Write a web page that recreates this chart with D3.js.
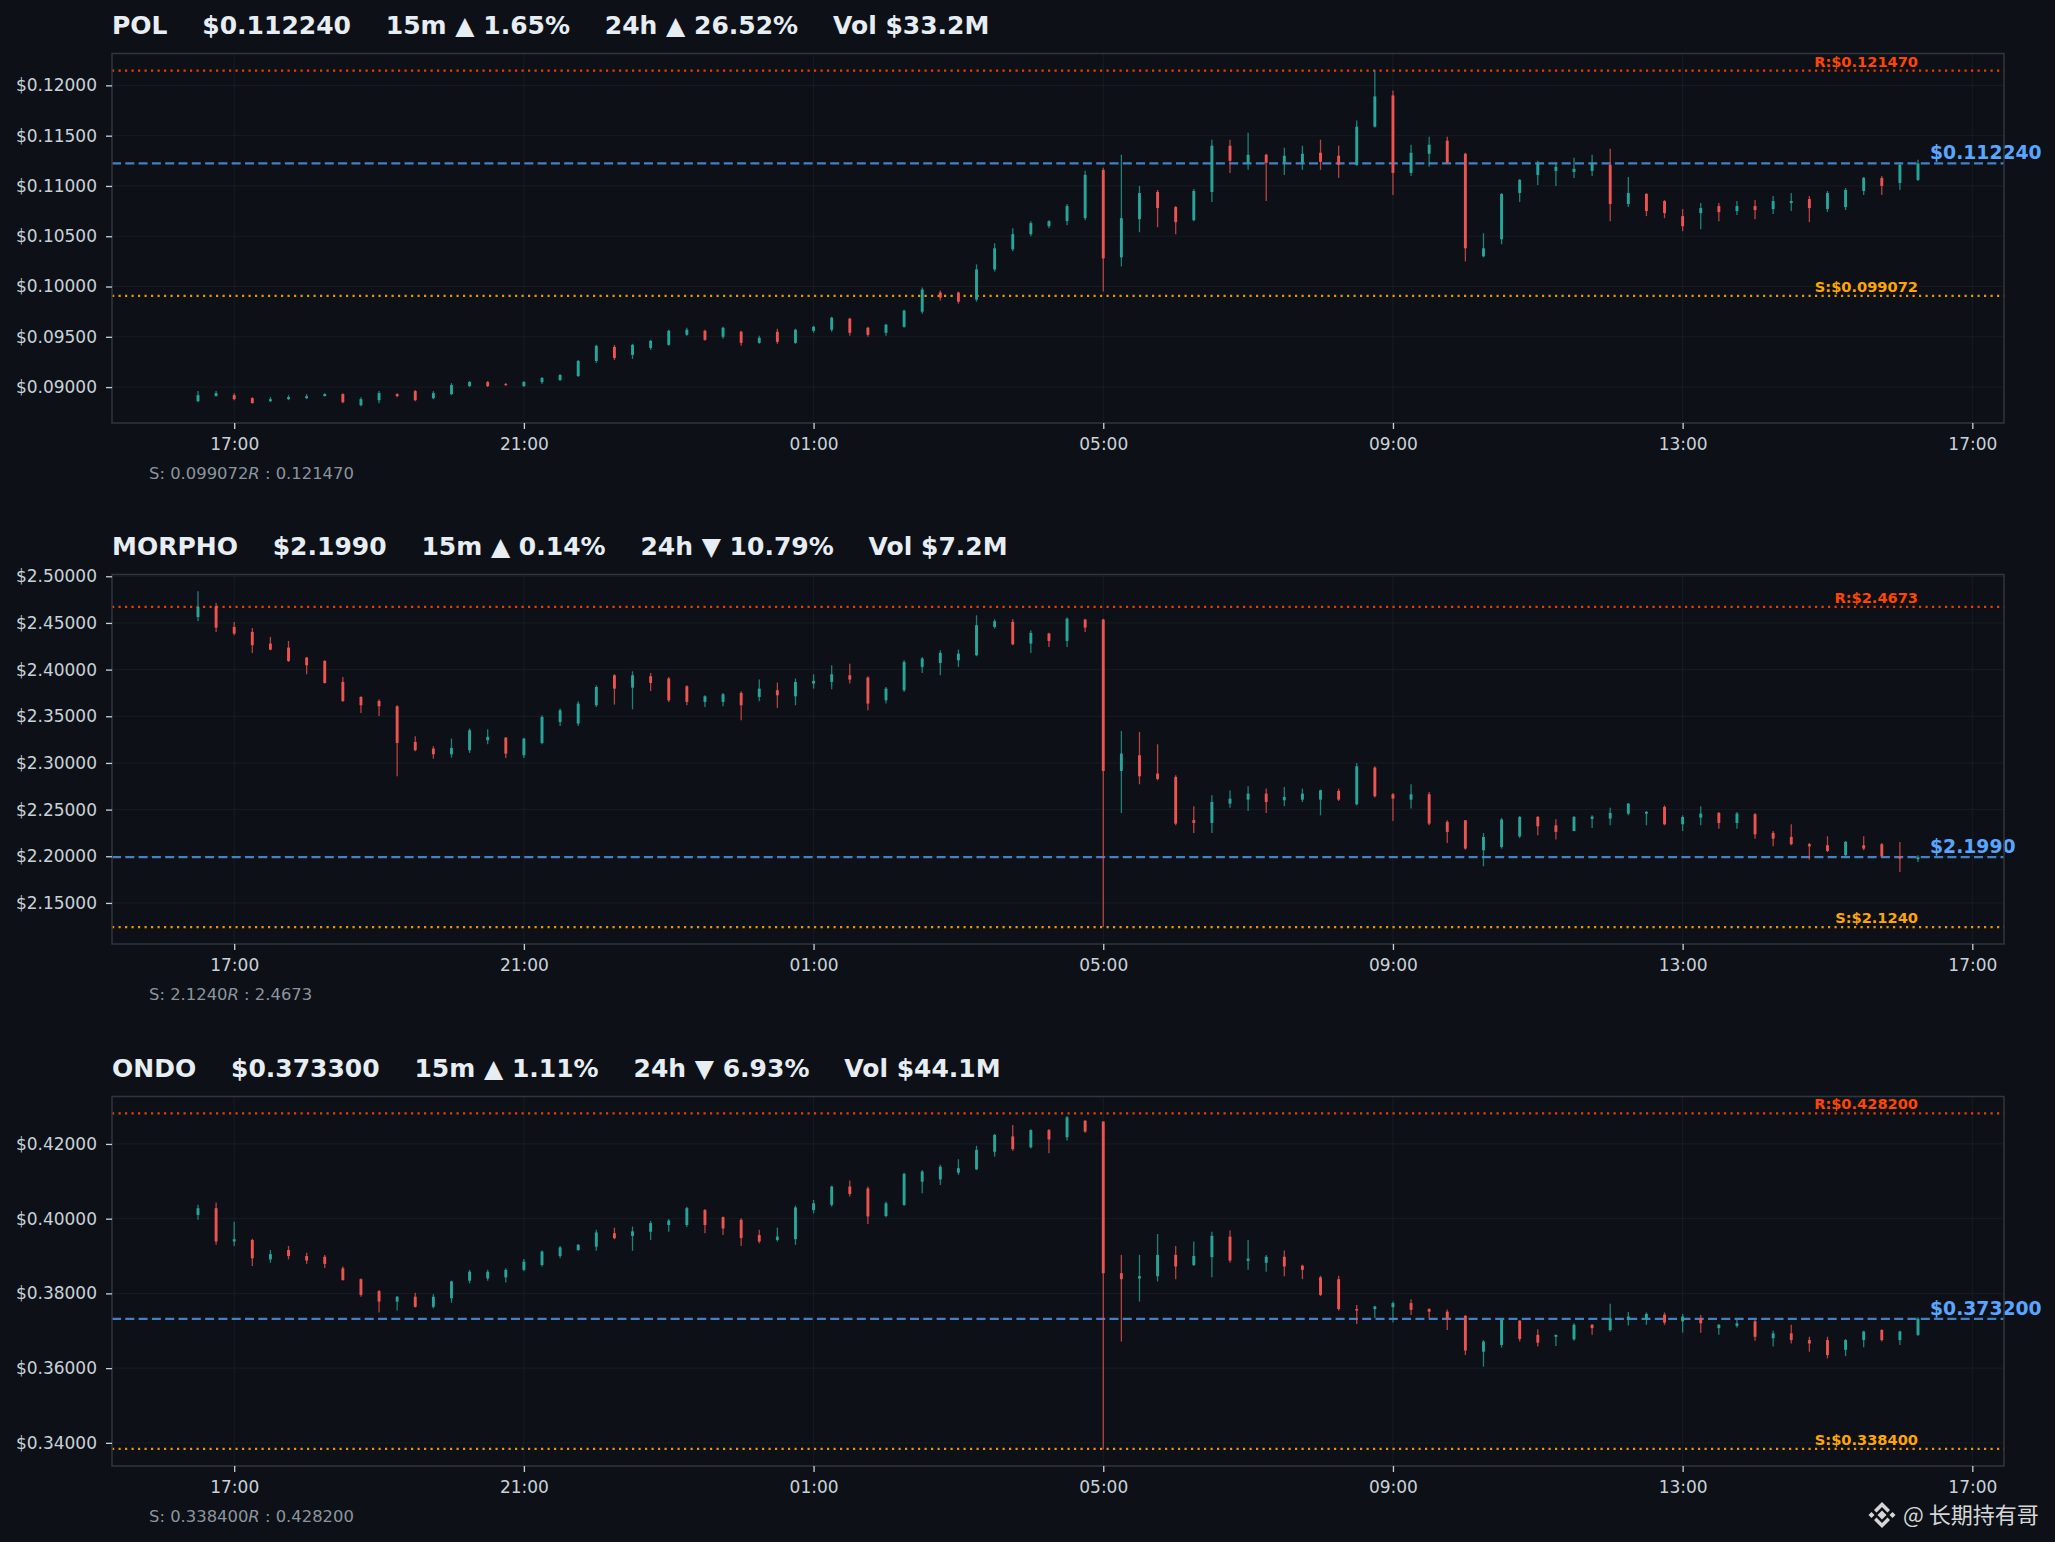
<!DOCTYPE html>
<html>
<head>
<meta charset="utf-8">
<script src="https://cdn.jsdelivr.net/npm/d3@7"></script>
<style>
  html, body { margin: 0; padding: 0; background: #0d1117; }
  svg { display: block; }
</style>
</head>
<body>
<div id="chart"></div>
<script>
// ---- data (15m candles, 16:30 -> 16:15 next day) ----
const candleStart = new Date("2025-01-01T16:30:00Z");

const symbols = ["POL", "MORPHO", "ONDO"];
const headerPrices = ["$0.112240", "$2.1990", "$0.373300"];
const change15m = ["▲ 1.65%", "▲ 0.14%", "▲ 1.11%"];
const change24h = ["▲ 26.52%", "▼ 10.79%", "▼ 6.93%"];
const volumes = ["$33.2M", "$7.2M", "$44.1M"];
const supports = [0.099072, 2.1240, 0.338400];
const resistances = [0.121470, 2.4673, 0.428200];
const priceDecimals = [6, 4, 6];
const yTickValues = [
  [0.090, 0.095, 0.100, 0.105, 0.110, 0.115, 0.120],
  [2.15, 2.20, 2.25, 2.30, 2.35, 2.40, 2.45, 2.50],
  [0.34, 0.36, 0.38, 0.40, 0.42]
];

const polOpen = [
  .0886,.0891,.0892,.0889,.0886,.0888,.0889,.0891,.0893,.0882,
  .0887,.0893,.0896,.0889,.0893,.0901,.0905,.0903,.0901,.0905,
  .0907,.0911,.0926,.0940,.0932,.0939,.0942,.0952,.0956,.0950,
  .0955,.0944,.0955,.0944,.0956,.0957,.0968,.0959,.0954,.0960,
  .0975,.0994,.0994,.0987,.1017,.1037,.1052,.1060,.1065,.1068,
  .1116,.1029,.1067,.1094,.1079,.1066,.1094,.1140,.1123,.1131,
  .1123,.1123,.1133,.1130,.1121,.1159,.1190,.1113,.1132,.1145,
  .1132,.1030,.1047,.1093,.1111,.1115,.1114,.1115,.1121,.1082,
  .1092,.1085,.1070,.1073,.1080,.1075,.1080,.1077,.1083,.1087,
  .1077,.1079,.1095,.1108,.1103,.1106];
const polHigh = [
  .0896,.0896,.0894,.0890,.0890,.0892,.0893,.0894,.0894,.0890,
  .0896,.0894,.0897,.0896,.0904,.0906,.0906,.0904,.0906,.0910,
  .0913,.0927,.0942,.0942,.0943,.0947,.0957,.0959,.0957,.0960,
  .0956,.0951,.0958,.0958,.0961,.0970,.0969,.0960,.0963,.0977,
  .0999,.0996,.0995,.1022,.1043,.1058,.1065,.1066,.1082,.1115,
  .1118,.1131,.1100,.1096,.1080,.1097,.1146,.1146,.1153,.1132,
  .1138,.1140,.1146,.1140,.1165,.1215,.1195,.1141,.1149,.1149,
  .1133,.1053,.1093,.1107,.1125,.1123,.1128,.1131,.1137,.1109,
  .1093,.1086,.1077,.1083,.1083,.1085,.1086,.1090,.1093,.1090,
  .1095,.1098,.1109,.1110,.1123,.1126];
const polLow = [
  .0885,.0891,.0887,.0884,.0885,.0887,.0888,.0891,.0884,.0881,
  .0884,.0890,.0886,.0888,.0892,.0900,.0900,.0901,.0900,.0903,
  .0906,.0910,.0924,.0927,.0928,.0937,.0941,.0951,.0946,.0948,
  .0941,.0943,.0943,.0943,.0954,.0955,.0951,.0950,.0951,.0959,
  .0973,.0986,.0983,.0985,.1015,.1035,.1050,.1058,.1061,.1066,
  .0995,.1020,.1054,.1059,.1052,.1065,.1084,.1113,.1116,.1085,
  .1111,.1116,.1116,.1108,.1120,.1158,.1091,.1110,.1119,.1122,
  .1025,.1029,.1042,.1084,.1101,.1100,.1108,.1110,.1065,.1079,
  .1070,.1068,.1055,.1057,.1065,.1071,.1067,.1072,.1075,.1064,
  .1074,.1076,.1091,.1091,.1096,.1105];
const polClose = [
  .0892,.0894,.0888,.0884,.0888,.0890,.0891,.0893,.0885,.0888,
  .0894,.0891,.0887,.0894,.0902,.0905,.0901,.0902,.0905,.0909,
  .0912,.0926,.0941,.0929,.0942,.0946,.0956,.0957,.0947,.0959,
  .0944,.0949,.0945,.0957,.0960,.0969,.0954,.0952,.0962,.0976,
  .0997,.0989,.0985,.1017,.1038,.1052,.1063,.1065,.1080,.1111,
  .1028,.1068,.1093,.1078,.1064,.1095,.1140,.1125,.1131,.1123,
  .1130,.1132,.1124,.1121,.1159,.1189,.1113,.1133,.1141,.1123,
  .1038,.1038,.1092,.1106,.1123,.1119,.1117,.1123,.1082,.1093,
  .1075,.1073,.1060,.1078,.1074,.1080,.1076,.1085,.1085,.1078,
  .1093,.1096,.1108,.1100,.1121,.11224];

const morphoOpen = [
  2.4564,2.4679,2.4457,2.4404,2.4279,2.4236,2.4129,2.4093,2.3868,2.3707,
  2.3664,2.3607,2.3225,2.3154,2.3093,2.3136,2.3243,2.3271,2.3082,2.3214,
  2.3439,2.3421,2.3618,2.3939,2.3807,2.3929,2.3904,2.3821,2.3654,2.3654,
  2.3750,2.3707,2.3779,2.3714,2.3850,2.3868,2.3939,2.3914,2.3671,2.3779,
  2.4029,2.4071,2.4100,2.4154,2.4457,2.4511,2.4279,2.4386,2.4307,2.4536,
  2.4536,2.2914,2.3082,2.2886,2.2850,2.2386,2.2357,2.2564,2.2607,2.2671,
  2.2600,2.2607,2.2607,2.2700,2.2557,2.2950,2.2664,2.2607,2.2664,2.2368,
  2.2386,2.2064,2.2100,2.2214,2.2421,2.2332,2.2271,2.2400,2.2404,2.2457,
  2.2457,2.2529,2.2343,2.2414,2.2464,2.2357,2.2450,2.2250,2.2207,2.2129,
  2.2118,2.2011,2.2118,2.2129,2.2000,2.1968];
const morphoHigh = [
  2.4839,2.4714,2.4510,2.4446,2.4350,2.4307,2.4136,2.4100,2.3921,2.3714,
  2.3682,2.3618,2.3286,2.3179,2.3261,2.3368,2.3360,2.3279,2.3271,2.3511,
  2.3582,2.3661,2.3832,2.3950,2.3982,2.3964,2.3921,2.3832,2.3725,2.3750,
  2.3768,2.3893,2.3861,2.3904,2.3950,2.4046,2.4064,2.3929,2.3814,2.4100,
  2.4136,2.4207,2.4214,2.4582,2.4539,2.4539,2.4421,2.4396,2.4557,2.4546,
  2.4546,2.3343,2.3332,2.3200,2.2868,2.2536,2.2654,2.2704,2.2750,2.2725,
  2.2743,2.2725,2.2714,2.2725,2.3000,2.2964,2.2679,2.2771,2.2689,2.2386,
  2.2386,2.2250,2.2411,2.2432,2.2432,2.2396,2.2432,2.2439,2.2521,2.2571,
  2.2486,2.2546,2.2439,2.2536,2.2475,2.2475,2.2464,2.2271,2.2343,2.2143,
  2.2214,2.2164,2.2214,2.2143,2.2154,2.2011];
const morphoLow = [
  2.4521,2.4404,2.4368,2.4179,2.4207,2.4082,2.3950,2.3850,2.3654,2.3536,
  2.3504,2.2857,2.3125,2.3046,2.3057,2.3107,2.3200,2.3054,2.3054,2.3200,
  2.3396,2.3396,2.3600,2.3625,2.3575,2.3771,2.3654,2.3618,2.3600,2.3607,
  2.3457,2.3661,2.3589,2.3618,2.3796,2.3789,2.3850,2.3564,2.3636,2.3761,
  2.3964,2.3939,2.4029,2.4143,2.4439,2.4261,2.4179,2.4243,2.4243,2.4404,
  2.1243,2.2464,2.2771,2.2814,2.2332,2.2250,2.2250,2.2521,2.2486,2.2464,
  2.2536,2.2582,2.2439,2.2593,2.2546,2.2629,2.2379,2.2511,2.2332,2.2143,
  2.2071,2.1893,2.2082,2.2196,2.2225,2.2179,2.2271,2.2304,2.2332,2.2439,
  2.2332,2.2332,2.2271,2.2332,2.2296,2.2296,2.2189,2.2107,2.2118,2.1964,
  2.2046,2.2000,2.2064,2.1993,2.1832,2.1939];
const morphoClose = [
  2.4671,2.4450,2.4386,2.4261,2.4214,2.4093,2.4046,2.3857,2.3664,2.3618,
  2.3607,2.3214,2.3136,2.3093,2.3161,2.3350,2.3279,2.3100,2.3261,2.3493,
  2.3564,2.3636,2.3814,2.3796,2.3939,2.3857,2.3671,2.3654,2.3714,2.3736,
  2.3618,2.3796,2.3725,2.3868,2.3879,2.3950,2.3893,2.3636,2.3796,2.4082,
  2.4118,2.4179,2.4171,2.4475,2.4518,2.4271,2.4393,2.4307,2.4546,2.4450,
  2.2914,2.3100,2.2857,2.2829,2.2350,2.2357,2.2582,2.2618,2.2671,2.2582,
  2.2636,2.2671,2.2707,2.2607,2.2964,2.2643,2.2618,2.2664,2.2350,2.2261,
  2.2082,2.2207,2.2393,2.2421,2.2321,2.2261,2.2421,2.2425,2.2464,2.2564,
  2.2475,2.2343,2.2421,2.2457,2.2357,2.2457,2.2236,2.2189,2.2129,2.2107,
  2.2057,2.2154,2.2082,2.2000,2.1975,2.1990];

const ondoOpen = [
  .4010,.4028,.3939,.3943,.3891,.3916,.3900,.3898,.3867,.3838,
  .3806,.3778,.3791,.3764,.3787,.3834,.3840,.3843,.3863,.3876,
  .3900,.3916,.3925,.3961,.3954,.3965,.3983,.3983,.4023,.4004,
  .3997,.3956,.3943,.3945,.4023,.4037,.4086,.4081,.4007,.4037,
  .4099,.4105,.4123,.4132,.4179,.4220,.4191,.4237,.4218,.4262,
  .4260,.3854,.3840,.3846,.3903,.3876,.3897,.3952,.3887,.3882,
  .3898,.3874,.3843,.3838,.3758,.3758,.3763,.3774,.3758,.3751,
  .3740,.3644,.3662,.3727,.3689,.3684,.3677,.3716,.3702,.3729,
  .3729,.3743,.3725,.3734,.3707,.3713,.3725,.3680,.3693,.3675,
  .3675,.3649,.3675,.3702,.3675,.3689];
const ondoHigh = [
  .4037,.4043,.3992,.3946,.3916,.3927,.3909,.3903,.3872,.3840,
  .3809,.3793,.3802,.3798,.3834,.3863,.3863,.3867,.3892,.3915,
  .3927,.3932,.3970,.3976,.3979,.3994,.3999,.4032,.4026,.4006,
  .4001,.3970,.3976,.4035,.4050,.4088,.4102,.4086,.4046,.4123,
  .4130,.4144,.4159,.4195,.4227,.4251,.4239,.4240,.4275,.4264,
  .4260,.3903,.3903,.3959,.3927,.3939,.3965,.3968,.3943,.3903,
  .3915,.3877,.3847,.3847,.3769,.3767,.3778,.3784,.3760,.3757,
  .3742,.3675,.3731,.3729,.3704,.3689,.3720,.3718,.3772,.3750,
  .3749,.3749,.3745,.3742,.3718,.3729,.3729,.3700,.3716,.3684,
  .3684,.3678,.3700,.3704,.3700,.3736];
const ondoLow = [
  .3997,.3930,.3927,.3873,.3882,.3891,.3879,.3868,.3834,.3791,
  .3749,.3754,.3762,.3760,.3775,.3827,.3834,.3829,.3859,.3872,
  .3894,.3914,.3914,.3945,.3914,.3943,.3965,.3978,.3961,.3956,
  .3927,.3934,.3939,.3930,.4014,.4032,.4059,.3986,.4004,.4034,
  .4068,.4090,.4117,.4130,.4166,.4182,.4188,.4175,.4209,.4230,
  .3383,.3671,.3778,.3832,.3838,.3873,.3843,.3882,.3863,.3858,
  .3846,.3838,.3793,.3754,.3718,.3734,.3722,.3742,.3734,.3702,
  .3635,.3604,.3655,.3671,.3658,.3659,.3673,.3689,.3698,.3714,
  .3716,.3716,.3695,.3695,.3689,.3709,.3673,.3658,.3666,.3644,
  .3626,.3632,.3656,.3671,.3662,.3686];
const ondoClose = [
  .4028,.3939,.3945,.3894,.3905,.3900,.3888,.3879,.3836,.3796,
  .3778,.3791,.3764,.3791,.3832,.3858,.3858,.3863,.3885,.3912,
  .3923,.3930,.3963,.3948,.3966,.3988,.3995,.4028,.3983,.3974,
  .3948,.3939,.3952,.4030,.4041,.4086,.4066,.4006,.4041,.4120,
  .4126,.4139,.4135,.4184,.4224,.4186,.4237,.4212,.4271,.4233,
  .3854,.3838,.3846,.3903,.3872,.3900,.3954,.3888,.3893,.3898,
  .3872,.3863,.3796,.3758,.3754,.3765,.3774,.3756,.3751,.3731,
  .3647,.3671,.3729,.3678,.3668,.3689,.3716,.3707,.3733,.3738,
  .3745,.3722,.3738,.3720,.3716,.3720,.3684,.3693,.3675,.3666,
  .3635,.3675,.3698,.3675,.3698,.3732];

const series = [
  { open: polOpen, high: polHigh, low: polLow, close: polClose },
  { open: morphoOpen, high: morphoHigh, low: morphoLow, close: morphoClose },
  { open: ondoOpen, high: ondoHigh, low: ondoLow, close: ondoClose }
];

// ---- layout ----
const W = 2055, H = 1542;
const plotLeft = 112, plotRight = 2004;
const panelTops = [53.5, 574.5, 1096.5];
const plotH = 369.5;

const BG = "#0d1117";
const UP = "#26a69a", DOWN = "#ef5350";
const TXT = "#e6edf3", TICK = "#c9d1d9", MUTED = "#8b949e";
const R_COLOR = "#ff4500", S_COLOR = "#ffa500", NOW_COLOR = "#58a6ff";
const FONT = "'DejaVu Sans', sans-serif";

const svg = d3.select("#chart").append("svg")
  .attr("width", W).attr("height", H)
  .attr("viewBox", `0 0 ${W} ${H}`);

svg.append("rect").attr("width", W).attr("height", H).attr("fill", BG);

series.forEach((s, k) => {
  const g = svg.append("g").attr("transform", `translate(0,${panelTops[k]})`);
  const n = s.close.length;
  const times = s.close.map((_, i) => d3.utcMinute.offset(candleStart, 15 * i));
  const t0 = times[0], t1 = times[n - 1];
  const span = t1 - t0;

  const x = d3.scaleUtc()
    .domain([new Date(+t0 - span * 0.05), new Date(+t1 + span * 0.05)])
    .range([plotLeft, plotRight]);

  const lo = Math.min(d3.min(s.low), supports[k]);
  const hi = Math.max(d3.max(s.high), resistances[k]);
  const pad = (hi - lo) * 0.05;
  const y = d3.scaleLinear().domain([lo - pad, hi + pad]).range([plotH, 0]);

  // every 4 hours starting from the first full hour after the first candle
  const xTicks = d3.utcHour.range(d3.utcHour.ceil(t0), x.domain()[1], 4);

  // faint grid
  g.append("g").selectAll("line").data(yTickValues[k]).join("line")
    .attr("x1", plotLeft).attr("x2", plotRight)
    .attr("y1", d => y(d)).attr("y2", d => y(d))
    .attr("stroke", "#30363d").attr("stroke-opacity", 0.3).attr("stroke-width", 1);
  g.append("g").selectAll("line").data(xTicks).join("line")
    .attr("x1", d => x(d)).attr("x2", d => x(d))
    .attr("y1", 0).attr("y2", plotH)
    .attr("stroke", "#30363d").attr("stroke-opacity", 0.3).attr("stroke-width", 1);

  // support / resistance / last price lines
  const last = s.close[n - 1];
  g.append("line").attr("x1", plotLeft).attr("x2", plotRight)
    .attr("y1", y(resistances[k])).attr("y2", y(resistances[k]))
    .attr("stroke", R_COLOR).attr("stroke-opacity", 0.9).attr("stroke-width", 2.3)
    .attr("stroke-dasharray", "2.2,4.3");
  g.append("line").attr("x1", plotLeft).attr("x2", plotRight)
    .attr("y1", y(supports[k])).attr("y2", y(supports[k]))
    .attr("stroke", S_COLOR).attr("stroke-opacity", 0.9).attr("stroke-width", 2.3)
    .attr("stroke-dasharray", "2.2,4.3");
  g.append("line").attr("x1", plotLeft).attr("x2", plotRight)
    .attr("y1", y(last)).attr("y2", y(last))
    .attr("stroke", NOW_COLOR).attr("stroke-opacity", 0.75).attr("stroke-width", 2.3)
    .attr("stroke-dasharray", "9,4.3");

  // candles
  const step = x(times[1]) - x(times[0]);
  const bodyW = step * 0.16;
  const idx = d3.range(n);
  const colorOf = i => s.close[i] >= s.open[i] ? UP : DOWN;

  g.append("g").selectAll("line").data(idx).join("line")
    .attr("x1", i => x(times[i])).attr("x2", i => x(times[i]))
    .attr("y1", i => y(s.high[i])).attr("y2", i => y(s.low[i]))
    .attr("stroke", colorOf).attr("stroke-opacity", 0.75).attr("stroke-width", 1.3);

  g.append("g").selectAll("rect").data(idx).join("rect")
    .attr("x", i => x(times[i]) - bodyW / 2)
    .attr("width", bodyW)
    .attr("y", i => y(Math.max(s.open[i], s.close[i])))
    .attr("height", i => Math.max(1, Math.abs(y(s.open[i]) - y(s.close[i]))))
    .attr("fill", colorOf);

  // line labels
  const xLast = x(t1);
  const fmt = v => v.toFixed(priceDecimals[k]);
  g.append("text").attr("x", xLast).attr("y", y(resistances[k]) - 4)
    .attr("text-anchor", "end").attr("font-family", FONT).attr("font-weight", "bold")
    .attr("font-size", 14.6).attr("fill", R_COLOR)
    .text("R:$" + fmt(resistances[k]));
  g.append("text").attr("x", xLast).attr("y", y(supports[k]) - 4)
    .attr("text-anchor", "end").attr("font-family", FONT).attr("font-weight", "bold")
    .attr("font-size", 14.6).attr("fill", S_COLOR)
    .text("S:$" + fmt(supports[k]));
  g.append("text").attr("x", xLast + 12).attr("y", y(last) - 4.3)
    .attr("font-family", FONT).attr("font-weight", "bold")
    .attr("font-size", 18.8).attr("fill", NOW_COLOR)
    .text("$" + fmt(last));

  // frame
  g.append("rect").attr("x", plotLeft).attr("y", 0)
    .attr("width", plotRight - plotLeft).attr("height", plotH)
    .attr("fill", "none").attr("stroke", "#30363d").attr("stroke-width", 1.5);

  // axes
  const yAxis = d3.axisLeft(y).tickValues(yTickValues[k])
    .tickFormat(d => "$" + d.toFixed(5)).tickSize(6).tickPadding(9);
  const ya = g.append("g").attr("transform", `translate(${plotLeft},0)`).call(yAxis);
  const xAxis = d3.axisBottom(x).tickValues(xTicks)
    .tickFormat(d3.utcFormat("%H:%M")).tickSize(6).tickPadding(9);
  const xa = g.append("g").attr("transform", `translate(0,${plotH})`).call(xAxis);
  [ya, xa].forEach(a => {
    a.select(".domain").remove();
    a.selectAll(".tick line").attr("stroke", TICK).attr("stroke-width", 1.3);
    a.selectAll(".tick text").attr("fill", TICK).attr("font-family", FONT).attr("font-size", 17);
  });

  // header
  g.append("text").attr("x", plotLeft).attr("y", -19.5)
    .attr("font-family", FONT).attr("font-weight", "bold").attr("font-size", 25)
    .attr("fill", TXT).style("white-space", "pre")
    .text(`${symbols[k]}    ${headerPrices[k]}    15m ${change15m[k]}    24h ${change24h[k]}    Vol ${volumes[k]}`);

  // S / R note under the axis
  const note = g.append("text").attr("x", plotLeft + 37).attr("y", plotH + 56)
    .attr("font-family", FONT).attr("font-size", 16.4).attr("fill", MUTED)
    .style("white-space", "pre");
  note.append("tspan").text("S: " + fmt(supports[k]));
  note.append("tspan").attr("font-style", "italic").text("R");
  note.append("tspan").text(" : " + fmt(resistances[k]));
});

// watermark
const wm = svg.append("g").attr("transform", "translate(1882,1515)").attr("fill", "#d6d6d6");
wm.append("path").attr("d", "M0,-4.5 L4.5,0 L0,4.5 L-4.5,0 Z");
wm.append("path").attr("d", "M-10.5,-3 L-7.5,0 L-10.5,3 L-13.5,0 Z");
wm.append("path").attr("d", "M10.5,-3 L13.5,0 L10.5,3 L7.5,0 Z");
wm.append("path").attr("d", "M0,-13 L8,-5 L5.5,-2.5 L0,-8 L-5.5,-2.5 L-8,-5 Z");
wm.append("path").attr("d", "M0,13 L8,5 L5.5,2.5 L0,8 L-5.5,2.5 L-8,5 Z");
svg.append("text").attr("x", 1903).attr("y", 1523)
  .attr("font-family", "'Noto Sans CJK SC', 'DejaVu Sans', sans-serif")
  .attr("font-size", 22).attr("fill", "#d6d6d6")
  .text("@ 长期持有哥");
</script>
</body>
</html>
